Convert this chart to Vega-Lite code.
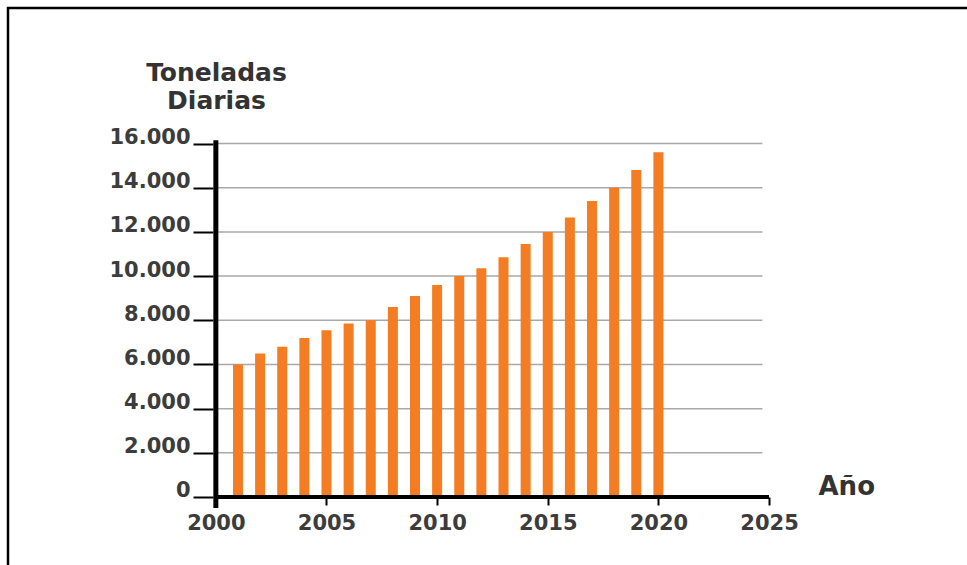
{
  "$schema": "https://vega.github.io/schema/vega-lite/v6.json",
  "width": 959,
  "height": 557,
  "autosize": {"type": "none"},
  "padding": {"left": 8, "top": 8, "right": 0, "bottom": 0},
  "background": "white",
  "config": {
    "font": "DejaVu Sans",
    "view": {"stroke": "black", "strokeWidth": 2.5, "strokeDash": [959, 1516, 557, 100]}
  },
  "datasets": {
    "bars": [
      {"year": 2001, "toneladas": 6000},
      {"year": 2002, "toneladas": 6500},
      {"year": 2003, "toneladas": 6800},
      {"year": 2004, "toneladas": 7200},
      {"year": 2005, "toneladas": 7550},
      {"year": 2006, "toneladas": 7850},
      {"year": 2007, "toneladas": 8000},
      {"year": 2008, "toneladas": 8600},
      {"year": 2009, "toneladas": 9100},
      {"year": 2010, "toneladas": 9600},
      {"year": 2011, "toneladas": 10000},
      {"year": 2012, "toneladas": 10350},
      {"year": 2013, "toneladas": 10850},
      {"year": 2014, "toneladas": 11450},
      {"year": 2015, "toneladas": 12000},
      {"year": 2016, "toneladas": 12650},
      {"year": 2017, "toneladas": 13400},
      {"year": 2018, "toneladas": 14000},
      {"year": 2019, "toneladas": 14800},
      {"year": 2020, "toneladas": 15600}
    ],
    "grid": [
      {"g": 2000}, {"g": 4000}, {"g": 6000}, {"g": 8000},
      {"g": 10000}, {"g": 12000}, {"g": 14000}, {"g": 16000}
    ],
    "one": [{}]
  },
  "layer": [
    {
      "data": {"name": "grid"},
      "mark": {"type": "rule", "color": "#a8a8a8", "strokeWidth": 1.5},
      "encoding": {
        "y": {"field": "g", "type": "quantitative",
              "scale": {"domain": [-3078, 22134], "nice": false, "zero": false},
              "axis": {
                "values": [0, 2000, 4000, 6000, 8000, 10000, 12000, 14000, 16000],
                "offset": -205,
                "domain": false,
                "grid": false,
                "ticks": true,
                "tickSize": 20,
                "tickWidth": 2,
                "tickColor": "black",
                "labelBaseline": "alphabetic",
                "labelPadding": 3,
                "labelFont": "DejaVu Sans",
                "labelFontSize": 21,
                "labelFontWeight": "bold",
                "labelColor": "#3c3c3c",
                "labelExpr": "replace(format(datum.value, ','), ',', '.')",
                "labelOverlap": false,
                "labelBound": false,
                "labelFlush": false,
                "title": ["Toneladas", "Diarias"],
                "titleAngle": 0,
                "titleAlign": "center",
                "titleBaseline": "alphabetic",
                "titleFont": "DejaVu Sans",
                "titleFontSize": 25,
                "titleFontWeight": "bold",
                "titleColor": "#333333",
                "titleLineHeight": 28,
                "titleX": 3,
                "titleY": 72
              }},
        "x": {"datum": 2000, "type": "quantitative",
              "scale": {"domain": [1990.832, 2033.721], "nice": false, "zero": false}},
        "x2": {"datum": 2024.7}
      }
    },
    {
      "data": {"name": "bars"},
      "mark": {"type": "bar", "color": "#f47c22", "size": 10},
      "encoding": {
        "x": {"field": "year", "type": "quantitative",
              "scale": {"domain": [1990.832, 2033.721], "nice": false, "zero": false},
              "axis": {
                "values": [2000, 2005, 2010, 2015, 2020, 2025],
                "format": "d",
                "offset": -68,
                "domain": false,
                "grid": false,
                "ticks": true,
                "tickSize": 8,
                "tickWidth": 2,
                "tickColor": "black",
                "labelFont": "DejaVu Sans",
                "labelFontSize": 21,
                "labelFontWeight": "bold",
                "labelColor": "#3c3c3c",
                "labelPadding": 7,
                "labelOverlap": false,
                "labelBound": false,
                "labelFlush": false,
                "title": "Año",
                "titleFont": "DejaVu Sans",
                "titleFontSize": 26,
                "titleFontWeight": "bold",
                "titleColor": "#333333",
                "titleAlign": "left",
                "titleAnchor": "start",
                "titleBaseline": "alphabetic",
                "titleX": 810,
                "titleY": -3
              }},
        "y": {"field": "toneladas", "type": "quantitative",
              "scale": {"domain": [-3078, 22134], "nice": false, "zero": false}},
        "y2": {"datum": 0}
      }
    },
    {
      "data": {"name": "one"},
      "mark": {"type": "rule", "color": "black", "strokeWidth": 4},
      "encoding": {
        "x": {"datum": 2000, "type": "quantitative"},
        "x2": {"datum": 2025},
        "y": {"datum": 0, "type": "quantitative"}
      }
    },
    {
      "data": {"name": "one"},
      "mark": {"type": "rule", "color": "black", "strokeWidth": 5},
      "encoding": {
        "x": {"datum": 2000, "type": "quantitative"},
        "y": {"datum": -500, "type": "quantitative"},
        "y2": {"datum": 16150}
      }
    }
  ]
}
